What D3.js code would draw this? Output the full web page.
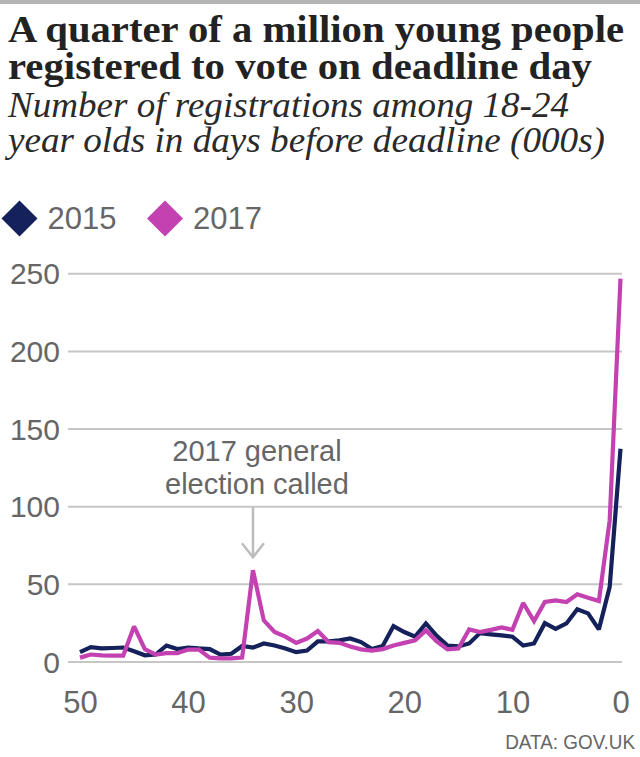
<!DOCTYPE html>
<html>
<head>
<meta charset="utf-8">
<script src="https://cdn.jsdelivr.net/npm/d3@7"></script>
<style>
  html, body { margin: 0; padding: 0; background: #fff; }
  svg { display: block; }
</style>
</head>
<body>
<svg id="chart" width="640" height="757"></svg>
<script>
// ---- data ----
const days = [50,49,48,47,46,45,44,43,42,41,40,39,38,37,36,35,34,33,32,31,30,29,28,27,26,25,24,23,22,21,20,19,18,17,16,15,14,13,12,11,10,9,8,7,6,5,4,3,2,1,0];
const values2015 = [6,9.2,8.4,8.7,9,6.6,4,4.5,10.3,8,9,8.4,8,4.5,5,10,9,11.6,10.3,8.4,6,7,13,13,13.6,14.8,12.5,8,10,22.8,19,16,24.5,16.5,10.3,9.7,11.6,18.3,17.5,16.8,16,10.3,11.6,24.7,21,24.5,33.6,31,20.7,48,137];
const values2017 = [2.5,4.5,4,3.8,3.8,22.6,8,4.5,5.4,5.4,7.7,7.7,2.5,2,2,2.5,58.8,26.5,19,16,12,14.8,19.6,12.5,12,9.7,7.8,7,8,10.3,12,13.6,20,13,7.8,8.4,20.7,19,20.4,22,20.4,37.7,26,38.3,39.4,38.3,43.3,41,39,91,246.6];
const seriesNames = ["2015", "2017"];
const yTicks = [0,50,100,150,200,250];
const xTicks = [50,40,30,20,10,0];
const titleLines = ["A quarter of a million young people", "registered to vote on deadline day"];
const subtitleLines = ["Number of registrations among 18-24", "year olds in days before deadline (000s)"];
const annotationLines = ["2017 general", "election called"];
const annotationDay = 34;
const sourceText = "DATA: GOV.UK";

// ---- setup ----
const colors = { "2015": "#14215a", "2017": "#c441b2" };
const svg = d3.select("#chart");

svg.append("rect").attr("x", 0).attr("y", 0).attr("width", 640).attr("height", 4).attr("fill", "#b4b4b4");

const serif = "'Liberation Serif', 'DejaVu Serif', serif";
const sans = "'Liberation Sans', Arial, sans-serif";

const titleW = [616, 584];
titleLines.forEach((t, i) => {
  svg.append("text").attr("x", 8).attr("y", 42 + i * 37)
    .attr("font-family", serif).attr("font-weight", "bold").attr("font-size", 38)
    .attr("fill", "#222").attr("textLength", titleW[i]).attr("lengthAdjust", "spacingAndGlyphs")
    .text(t);
});
const subW = [561, 597];
subtitleLines.forEach((t, i) => {
  svg.append("text").attr("x", 8).attr("y", 117 + i * 35)
    .attr("font-family", serif).attr("font-style", "italic").attr("font-size", 35)
    .attr("fill", "#2a2a2a").attr("textLength", subW[i]).attr("lengthAdjust", "spacingAndGlyphs")
    .text(t);
});

// legend
const legendX = [19.5, 165];
seriesNames.forEach((s, i) => {
  svg.append("path")
    .attr("d", d3.symbol().type(d3.symbolSquare).size(650)())
    .attr("transform", `translate(${legendX[i]},218.5) rotate(45)`)
    .attr("fill", colors[s]);
  svg.append("text").attr("x", legendX[i] + 28).attr("y", 228.5)
    .attr("font-family", sans).attr("font-size", 31).attr("fill", "#666")
    .text(s);
});

// scales
const x = d3.scaleLinear().domain([50, 0]).range([80, 620.5]);
const y = d3.scaleLinear().domain([0, 250]).range([661.5, 273.3]);

// y axis with gridlines
const gy = svg.append("g").attr("transform", "translate(622,0)")
  .call(d3.axisLeft(y).tickValues(yTicks).tickSize(554).tickPadding(8));
gy.select(".domain").remove();
gy.selectAll(".tick line").attr("stroke", "#c6c6c6").attr("stroke-width", 2);
gy.selectAll(".tick text").attr("font-family", sans).attr("font-size", 30).attr("fill", "#666").attr("dy", "0.35em");

// x axis
const gx = svg.append("g").attr("transform", `translate(0,${y(0)})`)
  .call(d3.axisBottom(x).tickValues(xTicks).tickSize(0).tickPadding(0));
gx.select(".domain").remove();
gx.selectAll(".tick text").attr("font-family", sans).attr("font-size", 31).attr("fill", "#666")
  .attr("y", 51.5).attr("dy", 0);

// lines
const line = d3.line().x((d, i) => x(days[i])).y(d => y(d));
[["2015", values2015], ["2017", values2017]].forEach(([s, vals]) => {
  svg.append("path").datum(vals)
    .attr("d", line)
    .attr("fill", "none")
    .attr("stroke", colors[s])
    .attr("stroke-width", 4.2)
    .attr("stroke-linejoin", "miter")
    .attr("stroke-miterlimit", 2);
});

// annotation
const ax = x(annotationDay);
const peak = y(values2017[days.indexOf(annotationDay)]);
annotationLines.forEach((t, i) => {
  svg.append("text").attr("x", ax + 4).attr("y", 461 + i * 33)
    .attr("text-anchor", "middle").attr("font-family", sans).attr("font-size", 29).attr("fill", "#666")
    .text(t);
});
const tipY = peak - 13;
svg.append("line").attr("x1", ax).attr("x2", ax).attr("y1", 507).attr("y2", tipY)
  .attr("stroke", "#bdbdbd").attr("stroke-width", 2.5);
svg.append("path")
  .attr("d", `M${ax - 11},${tipY - 14} L${ax},${tipY} L${ax + 11},${tipY - 14}`)
  .attr("fill", "none").attr("stroke", "#bdbdbd").attr("stroke-width", 2.5);

// source
svg.append("text").attr("transform", "translate(635,749) scale(0.9,1)").attr("text-anchor", "end")
  .attr("font-family", sans).attr("font-size", 21).attr("fill", "#666")
  .text(sourceText);
</script>
</body>
</html>
